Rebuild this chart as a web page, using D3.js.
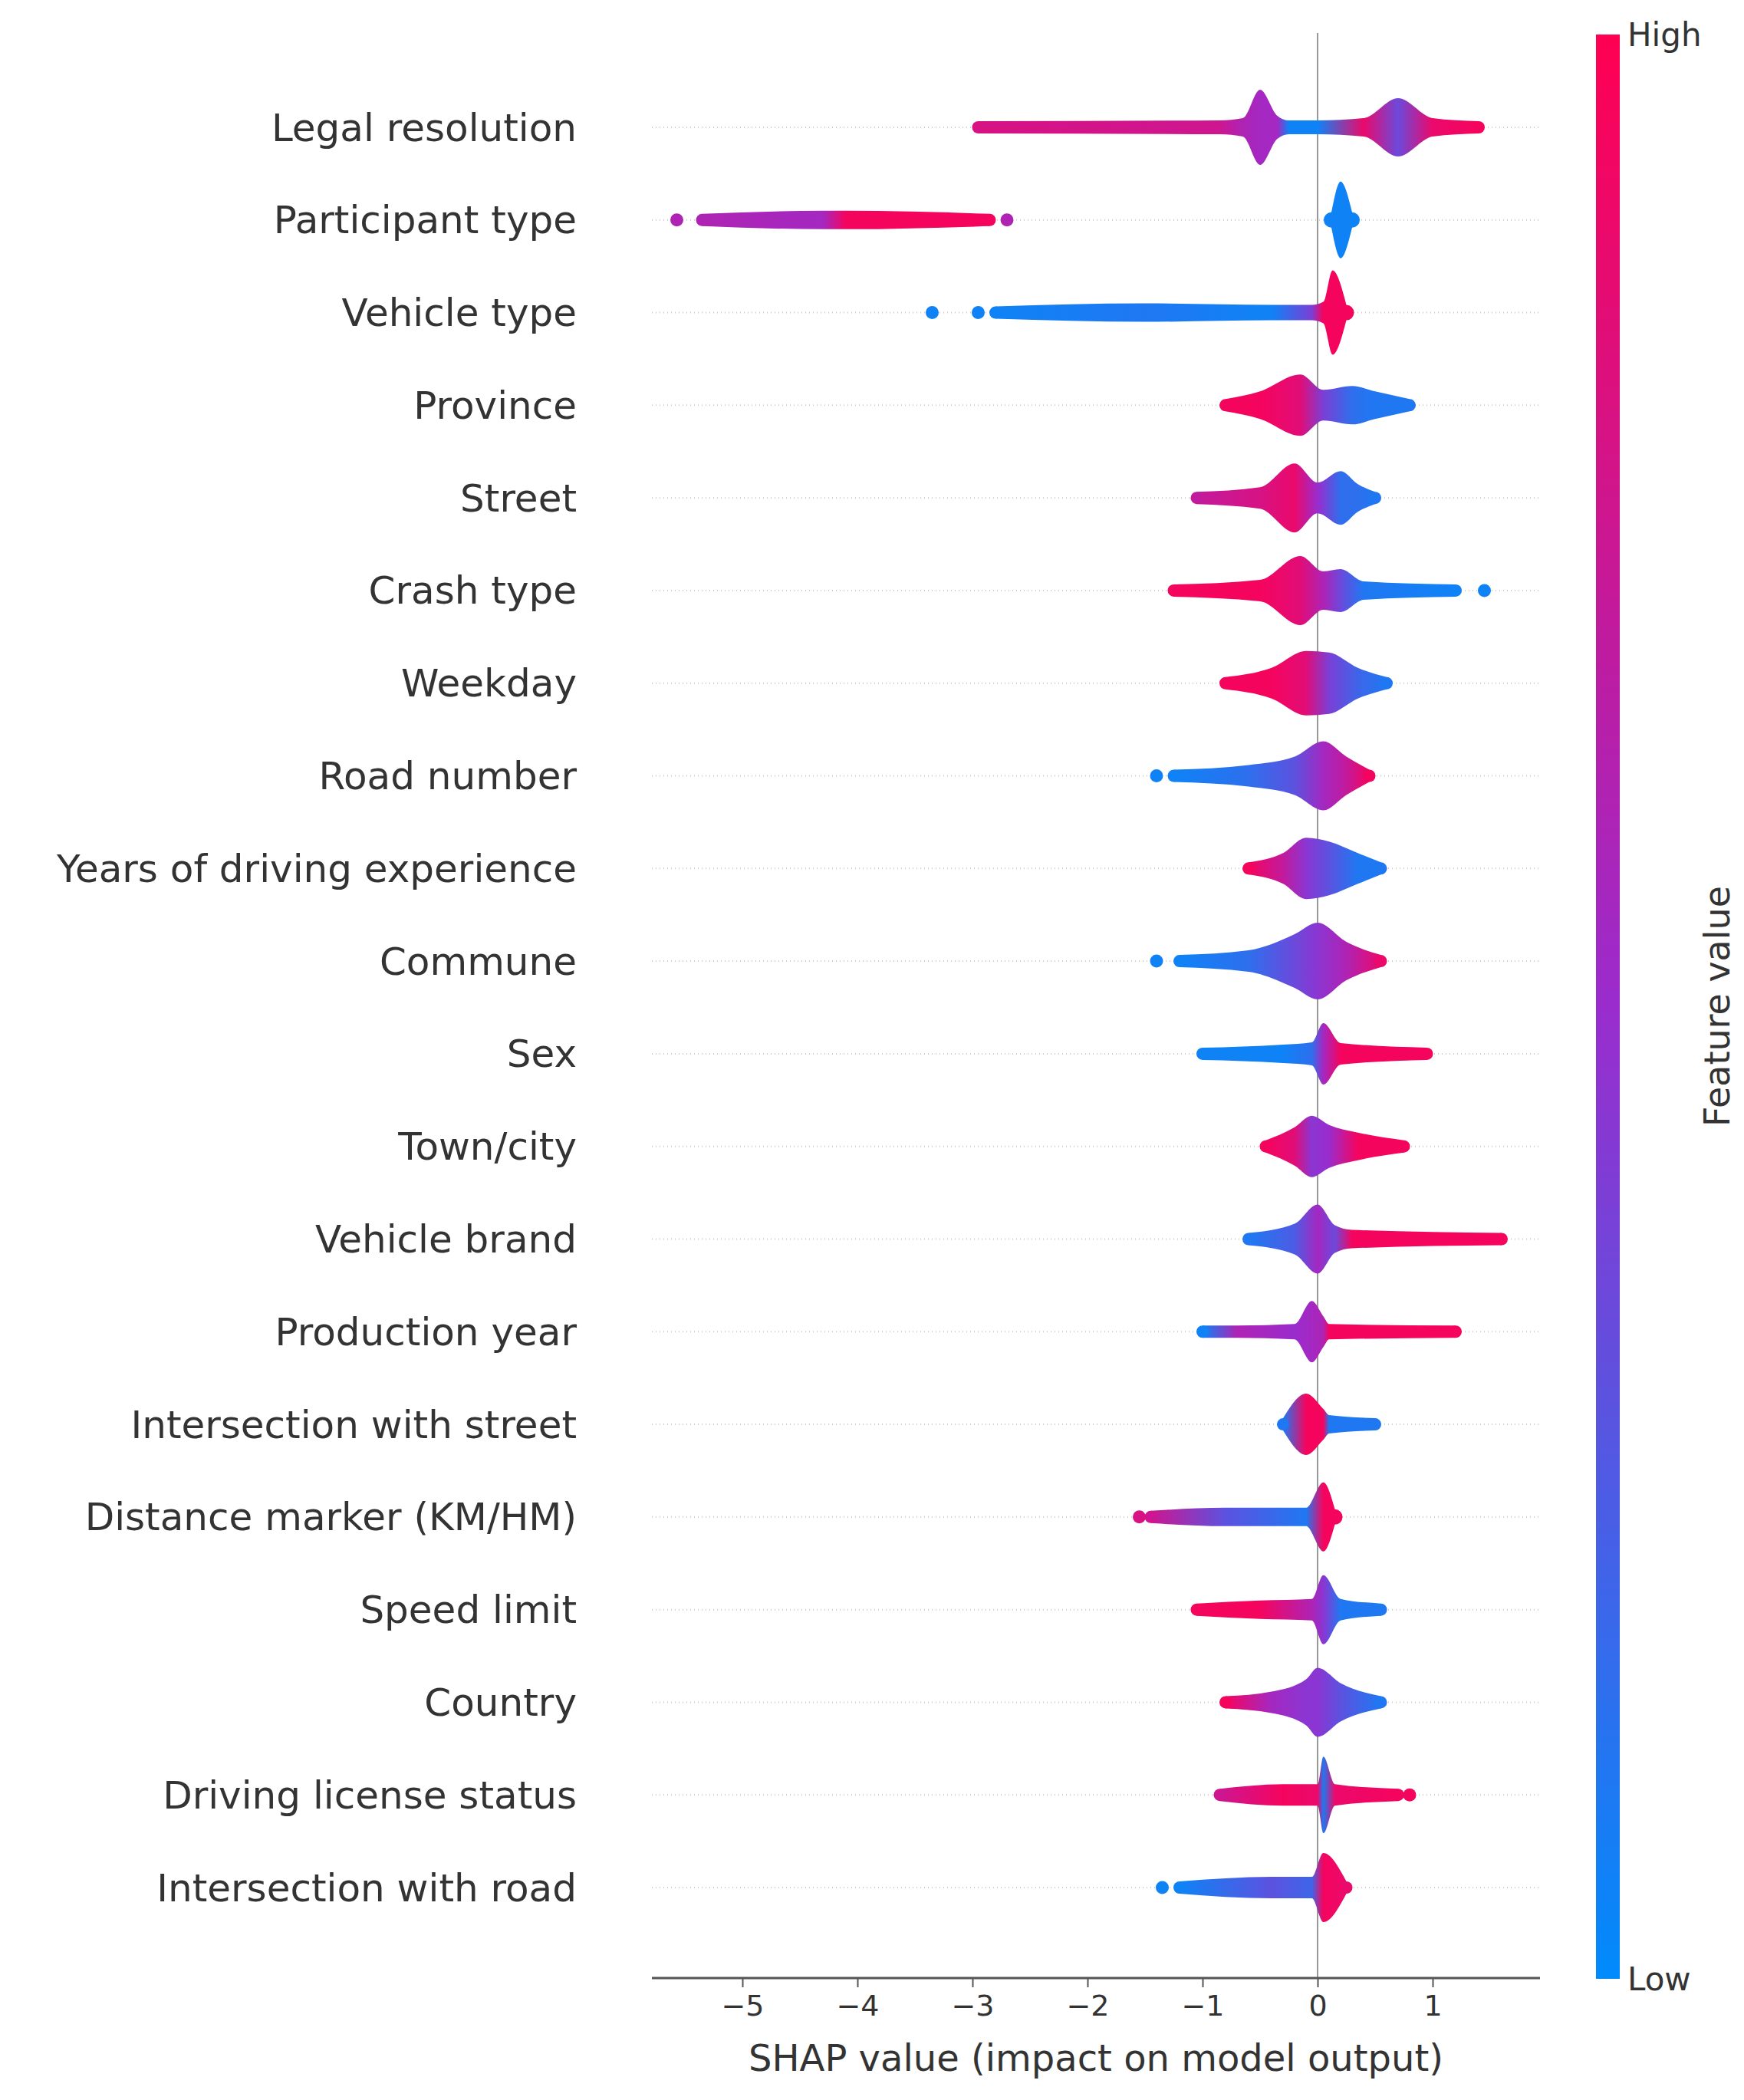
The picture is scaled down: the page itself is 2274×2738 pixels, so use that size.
<!DOCTYPE html>
<html>
<head>
<meta charset="utf-8">
<script src="https://cdn.jsdelivr.net/npm/d3@7"></script>
<style>
  body { margin: 0; background: #fff; }
  text { font-family: "DejaVu Sans", sans-serif; fill: #333; }
</style>
</head>
<body>
<div id="stage"></div>
<script>
// model
const features = [
  "Legal resolution", "Participant type", "Vehicle type", "Province", "Street",
  "Crash type", "Weekday", "Road number", "Years of driving experience", "Commune",
  "Sex", "Town/city", "Vehicle brand", "Production year", "Intersection with street",
  "Distance marker (KM/HM)", "Speed limit", "Country", "Driving license status", "Intersection with road"
];
const xTicks = [-5, -4, -3, -2, -1, 0, 1];

// swarm silhouettes: per feature, segments of [shap, half height px, feature value]
const swarms = [
  [[[-2.95,8,0.8],[-0.85,9,0.75],[-0.65,12,0.6],[-0.5,49,0.55],[-0.35,15,0.55],[-0.25,9,0.05],[0,9,0.05],[0.4,12,0.9],[0.7,38,0.35],[1.0,12,0.9],[1.4,8,0.95]]],
  [[[-5.35,8,0.6],[-4.3,12,0.55],[-4.1,12,0.95],[-2.85,8,0.95]], [[0.12,10,0.05],[0.2,50,0.05],[0.3,10,0.05]]],
  [[[-2.8,8,0.05],[-1.5,12,0.1],[-0.4,10,0.05],[-0.05,10,0.4],[0.05,14,0.95],[0.13,55,0.95],[0.25,10,0.95]]],
  [[[-0.8,8,0.95],[-0.5,18,0.95],[-0.15,40,0.85],[0.05,20,0.4],[0.3,25,0.15],[0.5,18,0.1],[0.8,8,0.1]]],
  [[[-1.05,8,0.7],[-0.5,14,0.8],[-0.2,45,0.9],[0.0,20,0.5],[0.2,35,0.15],[0.35,18,0.15],[0.5,8,0.1]]],
  [[[-1.25,8,0.95],[-0.5,14,0.95],[-0.15,45,0.85],[0.05,25,0.6],[0.2,28,0.35],[0.4,12,0.1],[1.2,8,0.05]]],
  [[[-0.8,8,0.95],[-0.4,20,0.95],[-0.1,42,0.85],[0.1,40,0.4],[0.35,20,0.2],[0.6,8,0.1]]],
  [[[-1.25,8,0.05],[-0.6,14,0.15],[-0.2,25,0.3],[0.05,45,0.55],[0.25,25,0.7],[0.45,8,0.95]]],
  [[[-0.6,8,0.95],[-0.3,20,0.7],[-0.1,40,0.45],[0.1,35,0.3],[0.35,20,0.1],[0.55,8,0.1]]],
  [[[-1.2,8,0.05],[-0.6,14,0.15],[-0.2,35,0.35],[0.0,50,0.45],[0.25,25,0.6],[0.55,8,0.9]]],
  [[[-1.0,8,0.05],[-0.3,12,0.05],[-0.05,15,0.15],[0.05,40,0.55],[0.2,14,0.95],[0.95,8,0.95]]],
  [[[-0.45,8,0.95],[-0.2,25,0.85],[-0.05,40,0.45],[0.1,28,0.5],[0.35,18,0.95],[0.75,8,0.95]]],
  [[[-0.6,8,0.1],[-0.2,20,0.25],[0.0,45,0.55],[0.15,18,0.35],[0.3,12,0.95],[1.6,8,0.95]]],
  [[[-1.0,8,0.05],[-0.7,8,0.6],[-0.2,10,0.5],[-0.05,40,0.55],[0.05,20,0.6],[0.1,10,0.95],[1.2,8,0.95]]],
  [[[-0.3,8,0.1],[-0.1,40,0.95],[0.05,20,0.95],[0.1,12,0.1],[0.5,8,0.1]]],
  [[[-1.45,8,0.75],[-0.8,12,0.3],[-0.1,12,0.1],[0.05,45,0.95],[0.15,10,0.95]]],
  [[[-1.05,8,0.95],[-0.5,12,0.95],[-0.05,14,0.6],[0.05,45,0.45],[0.2,14,0.1],[0.55,8,0.1]]],
  [[[-0.8,8,0.95],[-0.4,14,0.55],[-0.1,30,0.45],[0.0,45,0.45],[0.2,25,0.3],[0.55,8,0.1]]],
  [[[-0.85,8,0.75],[-0.3,14,0.95],[0.0,14,0.9],[0.05,50,0.1],[0.15,14,0.9],[0.7,8,0.95]]],
  [[[-1.2,8,0.05],[-0.4,14,0.3],[-0.05,14,0.2],[0.05,45,0.95],[0.25,8,0.9]]]
];
// isolated dots: [feature index, shap, feature value]
const outliers = [
  [1,-5.57,0.6],[1,-2.7,0.6],[2,-3.35,0.05],[2,-2.95,0.05],[5,1.45,0.05],
  [7,-1.4,0.05],[9,-1.4,0.05],[15,-1.55,0.8],[18,0.8,0.95],[19,-1.35,0.05]
];

// stage
const W = 2274, H = 2738;
const svg = d3.select("#stage").append("svg").attr("width", W).attr("height", H);
const defs = svg.append("defs");

const x = d3.scaleLinear().domain([0, 1]).range([1718, 1868]);
const y = d3.scalePoint().domain(features).range([166, 2461]);
const color = d3.scaleLinear().domain([0, 0.5, 1]).range(["#008bfb", "#9a2ccd", "#ff0052"]);

// row guides
svg.append("g").selectAll("line").data(features).join("line")
  .attr("x1", 850).attr("x2", 2008)
  .attr("y1", d => y(d)).attr("y2", d => y(d))
  .attr("stroke", "#ccc").attr("stroke-width", 2).attr("stroke-dasharray", "1,4");

// zero line
svg.append("line").attr("x1", x(0)).attr("x2", x(0)).attr("y1", 43).attr("y2", 2579)
  .attr("stroke", "#999").attr("stroke-width", 2);

// swarms
const area = d3.area().curve(d3.curveMonotoneX).x(d => x(d[0]));
const g = svg.append("g");
let gid = 0;
swarms.forEach((segs, i) => {
  const cy = y(features[i]);
  segs.forEach(seg => {
    const x0 = x(seg[0][0]), x1 = x(seg[seg.length - 1][0]);
    const id = "sg" + (gid++);
    const grad = defs.append("linearGradient").attr("id", id)
      .attr("gradientUnits", "userSpaceOnUse").attr("x1", x0).attr("x2", x1).attr("y1", 0).attr("y2", 0);
    seg.forEach(s => grad.append("stop")
      .attr("offset", (x(s[0]) - x0) / (x1 - x0)).attr("stop-color", color(s[2])));
    area.y0(d => cy - d[1]).y1(d => cy + d[1]);
    g.append("path").attr("d", area(seg)).attr("fill", `url(#${id})`);
    [seg[0], seg[seg.length - 1]].forEach(s =>
      g.append("circle").attr("cx", x(s[0])).attr("cy", cy).attr("r", s[1]).attr("fill", color(s[2])));
  });
});
g.selectAll("circle.out").data(outliers).join("circle").attr("class", "out")
  .attr("cx", d => x(d[1])).attr("cy", d => y(features[d[0]])).attr("r", 8.5)
  .attr("fill", d => color(d[2]));

// feature labels
svg.append("g").selectAll("text").data(features).join("text")
  .attr("x", 752).attr("y", d => y(d)).attr("dy", "0.35em")
  .attr("text-anchor", "end").attr("font-size", 50).text(d => d);

// x axis
const ax = svg.append("g").attr("transform", "translate(0,2579)")
  .call(d3.axisBottom(x).tickValues(xTicks).tickSize(12).tickPadding(10).tickFormat(d => d < 0 ? "\u2212" + (-d) : d));
ax.select(".domain").remove();
ax.append("line").attr("x1", 850).attr("x2", 2008).attr("stroke", "#555").attr("stroke-width", 3);
ax.selectAll(".tick line").attr("stroke", "#555").attr("stroke-width", 2);
ax.selectAll(".tick text").attr("font-size", 38).attr("fill", "#333").attr("font-family", "DejaVu Sans");
svg.append("text").attr("x", 1429).attr("y", 2700).attr("text-anchor", "middle")
  .attr("font-size", 48).text("SHAP value (impact on model output)");

// colour bar
const cb = defs.append("linearGradient").attr("id", "cbar").attr("x1", 0).attr("x2", 0).attr("y1", 1).attr("y2", 0);
d3.range(0, 1.01, 0.1).forEach(t => cb.append("stop").attr("offset", t).attr("stop-color", color(t)));
svg.append("rect").attr("x", 2081).attr("y", 45).attr("width", 31).attr("height", 2535).attr("fill", "url(#cbar)");
svg.append("text").attr("x", 2122).attr("y", 60).attr("font-size", 42).text("High");
svg.append("text").attr("x", 2122).attr("y", 2595).attr("font-size", 42).text("Low");
svg.append("text").attr("transform", "translate(2255,1312) rotate(-90)")
  .attr("text-anchor", "middle").attr("font-size", 46).text("Feature value");
</script>
</body>
</html>
